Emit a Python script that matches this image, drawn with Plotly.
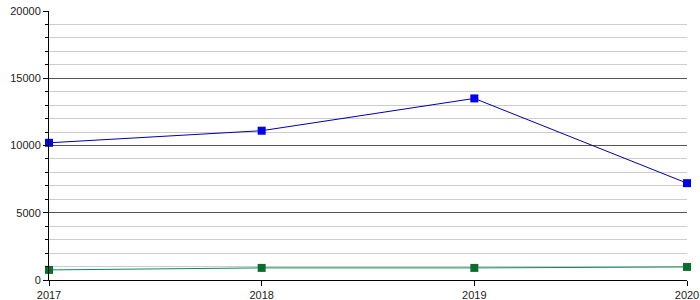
import plotly.graph_objects as go

years = ["2017", "2018", "2019", "2020"]
series_blue = [10200, 11100, 13500, 7200]
series_green = [750, 900, 900, 970]

fig = go.Figure()
fig.add_trace(go.Scatter(
    x=years, y=series_green, mode="lines+markers",
    line=dict(color="#0a8a5a", width=1),
    marker=dict(symbol="square", size=8, color="#0b6e2e"),
    cliponaxis=False, showlegend=False))
fig.add_trace(go.Scatter(
    x=years, y=series_blue, mode="lines+markers",
    line=dict(color="#0000aa", width=1),
    marker=dict(symbol="square", size=8, color="#0000ee"),
    cliponaxis=False, showlegend=False))

fig.update_layout(
    width=700, height=300,
    margin=dict(l=49, r=13, t=11, b=20),
    paper_bgcolor="white", plot_bgcolor="white",
    font=dict(family="Liberation Sans, Arial, sans-serif", size=11, color="#222"),
    xaxis=dict(
        type="category", range=[0, 3], showgrid=False, automargin=False,
        showline=True, linecolor="black", linewidth=1,
        ticks="outside", ticklen=5, tickcolor="black",
        tickfont=dict(size=11), zeroline=False),
    yaxis=dict(
        range=[0, 20000], dtick=5000, tick0=0, tickformat="d", automargin=False,
        showgrid=True, gridcolor="#555555", gridwidth=1,
        showline=True, linecolor="black", linewidth=1,
        ticks="outside", ticklen=5, tickcolor="black",
        zeroline=False, tickfont=dict(size=11),
        minor=dict(dtick=1000, showgrid=True, gridcolor="#cccccc",
                   ticks="outside", ticklen=3, tickcolor="black")),
)
fig.write_html("out.html")
